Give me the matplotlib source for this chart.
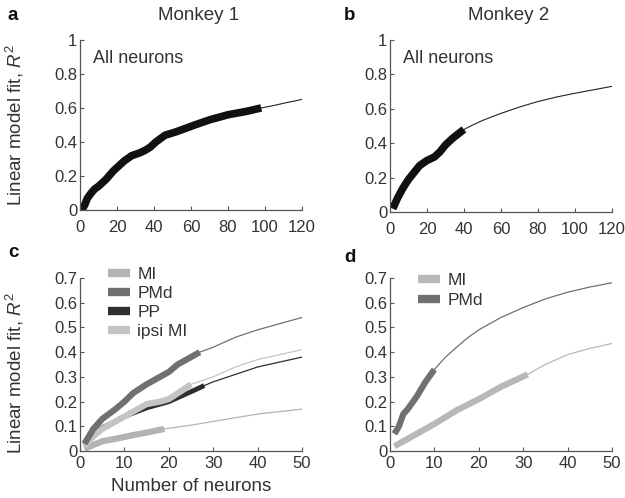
import matplotlib
matplotlib.use('Agg')
import matplotlib.pyplot as plt

plt.rcParams['font.family'] = ['Liberation Sans', 'DejaVu Sans']
plt.rcParams['mathtext.fontset'] = 'custom'
plt.rcParams['mathtext.it'] = 'Liberation Sans:italic'
plt.rcParams['mathtext.rm'] = 'Liberation Sans'

# panel a: monkey 1, all neurons
a_x = [1, 2.5, 4, 6, 8, 10, 14, 18, 21, 24, 28, 32, 35, 38, 41, 46, 52, 62, 70, 80, 90, 98]
a_y = [0.0, 0.03, 0.07, 0.10, 0.125, 0.14, 0.18, 0.23, 0.26, 0.29, 0.32, 0.335, 0.35, 0.37, 0.40, 0.44, 0.46, 0.50, 0.53, 0.56, 0.58, 0.60]
a_fit_x = [98, 105, 112, 120]
a_fit_y = [0.60, 0.615, 0.632, 0.65]

# panel b: monkey 2, all neurons
b_x = [1.5, 4, 7, 10, 13, 16, 20, 24, 27, 30, 34, 37, 40]
b_y = [0.02, 0.08, 0.14, 0.19, 0.23, 0.27, 0.30, 0.32, 0.35, 0.39, 0.43, 0.455, 0.48]
b_fit_x = [40, 45, 50, 55, 60, 70, 80, 90, 100, 110, 120]
b_fit_y = [0.48, 0.507, 0.532, 0.553, 0.573, 0.61, 0.642, 0.668, 0.69, 0.71, 0.73]

# panel c: monkey 1 by area
c_names = ['MI', 'PMd', 'PP', 'ipsi MI']
c_colors = ['#b3b3b3', '#707070', '#2e2e2e', '#c4c4c4']
c_x = [
    [1, 3, 5, 8, 12, 15, 19],
    [1, 3, 5, 8, 10, 12, 15, 17, 20, 22, 25, 27],
    [1, 3, 5, 8, 10, 15, 20, 25, 28],
    [1, 3, 5, 8, 10, 13, 15, 18, 20, 23, 25],
]
c_y = [
    [0.01, 0.025, 0.04, 0.05, 0.065, 0.075, 0.09],
    [0.03, 0.09, 0.13, 0.17, 0.20, 0.235, 0.27, 0.29, 0.32, 0.35, 0.38, 0.40],
    [0.03, 0.07, 0.095, 0.12, 0.14, 0.175, 0.20, 0.24, 0.265],
    [0.02, 0.06, 0.09, 0.12, 0.14, 0.17, 0.19, 0.20, 0.21, 0.245, 0.27],
]
c_fit_x = [
    [19, 25, 30, 35, 40, 45, 50],
    [27, 30, 35, 40, 45, 50],
    [28, 30, 35, 40, 45, 50],
    [25, 30, 35, 40, 45, 50],
]
c_fit_y = [
    [0.09, 0.105, 0.12, 0.135, 0.15, 0.16, 0.17],
    [0.40, 0.42, 0.46, 0.49, 0.515, 0.54],
    [0.265, 0.28, 0.31, 0.34, 0.36, 0.38],
    [0.27, 0.30, 0.34, 0.37, 0.39, 0.41],
]

# panel d: monkey 2 by area
d_names = ['MI', 'PMd']
d_colors = ['#b8b8b8', '#707070']
d_x = [
    [1, 5, 10, 15, 20, 25, 31],
    [1, 2, 3, 4, 6, 8, 10],
]
d_y = [
    [0.02, 0.06, 0.11, 0.165, 0.21, 0.26, 0.31],
    [0.07, 0.10, 0.15, 0.17, 0.22, 0.28, 0.33],
]
d_fit_x = [
    [31, 35, 40, 45, 50],
    [10, 12.5, 15, 17.5, 20, 25, 30, 35, 40, 45, 50],
]
d_fit_y = [
    [0.31, 0.35, 0.39, 0.415, 0.435],
    [0.33, 0.38, 0.42, 0.458, 0.49, 0.54, 0.58, 0.615, 0.642, 0.663, 0.68],
]

fig = plt.figure(figsize=(6.25, 4.98), dpi=100)
ax_a = fig.add_axes([0.128, 0.578, 0.355, 0.342])
ax_b = fig.add_axes([0.624, 0.574, 0.355, 0.346])
ax_c = fig.add_axes([0.128, 0.094, 0.355, 0.348])
ax_d = fig.add_axes([0.624, 0.094, 0.355, 0.348])

text_col = '#333333'
for ax in [ax_a, ax_b, ax_c, ax_d]:
    for s in ['top', 'right']:
        ax.spines[s].set_visible(False)
    for s in ['left', 'bottom']:
        ax.spines[s].set_color('#555555')
        ax.spines[s].set_linewidth(0.9)
    ax.tick_params(direction='in', length=3, width=0.8, colors='#555555',
                   labelcolor=text_col, labelsize=12, pad=2)
for ax in [ax_a, ax_b]:
    ax.tick_params(axis='x', pad=7)
for ax in [ax_c, ax_d]:
    ax.tick_params(axis='x', pad=3.5)

ylab = 'Linear model fit, $R^2$'

# a
ax_a.plot(a_fit_x, a_fit_y, color='#222222', lw=0.8)
ax_a.plot(a_x, a_y, color='#111111', lw=5.5, solid_capstyle='butt')
ax_a.set_xlim(0, 120)
ax_a.set_ylim(0, 1)
ax_a.set_xticks(range(0, 121, 20))
ax_a.set_yticks([0, 0.2, 0.4, 0.6, 0.8, 1])
ax_a.set_yticklabels(['0', '0.2', '0.4', '0.6', '0.8', '1'])
ax_a.set_ylabel(ylab, fontsize=13.5, color=text_col)
ax_a.yaxis.set_label_coords(-0.245, 0.5)
ax_a.text(0.06, 0.94, 'All neurons', transform=ax_a.transAxes, fontsize=13,
          color=text_col, va='top')

# b
ax_b.plot(b_fit_x, b_fit_y, color='#222222', lw=0.8)
ax_b.plot(b_x, b_y, color='#111111', lw=5.5, solid_capstyle='butt')
ax_b.set_xlim(0, 120)
ax_b.set_ylim(0, 1)
ax_b.set_xticks(range(0, 121, 20))
ax_b.set_yticks([0, 0.2, 0.4, 0.6, 0.8, 1])
ax_b.set_yticklabels(['0', '0.2', '0.4', '0.6', '0.8', '1'])
ax_b.text(0.06, 0.94, 'All neurons', transform=ax_b.transAxes, fontsize=13,
          color=text_col, va='top')

# c
order = [0, 2, 3, 1]
for i in order:
    ax_c.plot(c_fit_x[i], c_fit_y[i], color=c_colors[i], lw=0.9)
for i in order:
    ax_c.plot(c_x[i], c_y[i], color=c_colors[i], lw=4.5 if i != 2 else 3.5,
              solid_capstyle='butt', label=c_names[i])
ax_c.set_xlim(0, 50)
ax_c.set_ylim(0, 0.7)
ax_c.set_xticks(range(0, 51, 10))
ax_c.set_yticks([0, 0.1, 0.2, 0.3, 0.4, 0.5, 0.6, 0.7])
ax_c.set_yticklabels(['0', '0.1', '0.2', '0.3', '0.4', '0.5', '0.6', '0.7'])
ax_c.set_ylabel(ylab, fontsize=13.5, color=text_col)
ax_c.yaxis.set_label_coords(-0.245, 0.45)
ax_c.set_xlabel('Number of neurons', fontsize=13.5, color=text_col, labelpad=5)
h, l = ax_c.get_legend_handles_labels()
hmap = dict(zip(l, h))
leg_c = ax_c.legend([hmap[n] for n in c_names], c_names, loc='upper left',
                    bbox_to_anchor=(0.07, 1.135), frameon=False, fontsize=12.5,
                    handlelength=1.3, handletextpad=0.4, labelspacing=0.22,
                    labelcolor=text_col, borderpad=0.2)
for ln in leg_c.get_lines():
    ln.set_linewidth(6)

# d
for i in range(2):
    ax_d.plot(d_fit_x[i], d_fit_y[i], color=d_colors[i], lw=0.9)
for i in range(2):
    ax_d.plot(d_x[i], d_y[i], color=d_colors[i], lw=4.5, solid_capstyle='butt',
              label=d_names[i])
ax_d.set_xlim(0, 50)
ax_d.set_ylim(0, 0.7)
ax_d.set_xticks(range(0, 51, 10))
ax_d.set_yticks([0, 0.1, 0.2, 0.3, 0.4, 0.5, 0.6, 0.7])
ax_d.set_yticklabels(['0', '0.1', '0.2', '0.3', '0.4', '0.5', '0.6', '0.7'])
leg_d = ax_d.legend(loc='upper left', bbox_to_anchor=(0.07, 1.1), frameon=False,
                    fontsize=12.5, handlelength=1.3, handletextpad=0.4,
                    labelspacing=0.3, labelcolor=text_col, borderpad=0.2)
for ln in leg_d.get_lines():
    ln.set_linewidth(6)

# titles and panel letters
fig.text(0.318, 0.968, 'Monkey 1', fontsize=13.5, color=text_col, ha='center', va='center')
fig.text(0.814, 0.968, 'Monkey 2', fontsize=13.5, color=text_col, ha='center', va='center')
for lt, x, y in [('a', 0.02, 0.968), ('b', 0.56, 0.968),
                 ('c', 0.022, 0.492), ('d', 0.56, 0.483)]:
    fig.text(x, y, lt, fontsize=13.5, fontweight='bold', color='#111111',
             ha='center', va='center')

fig.savefig('out.png', dpi=100)
